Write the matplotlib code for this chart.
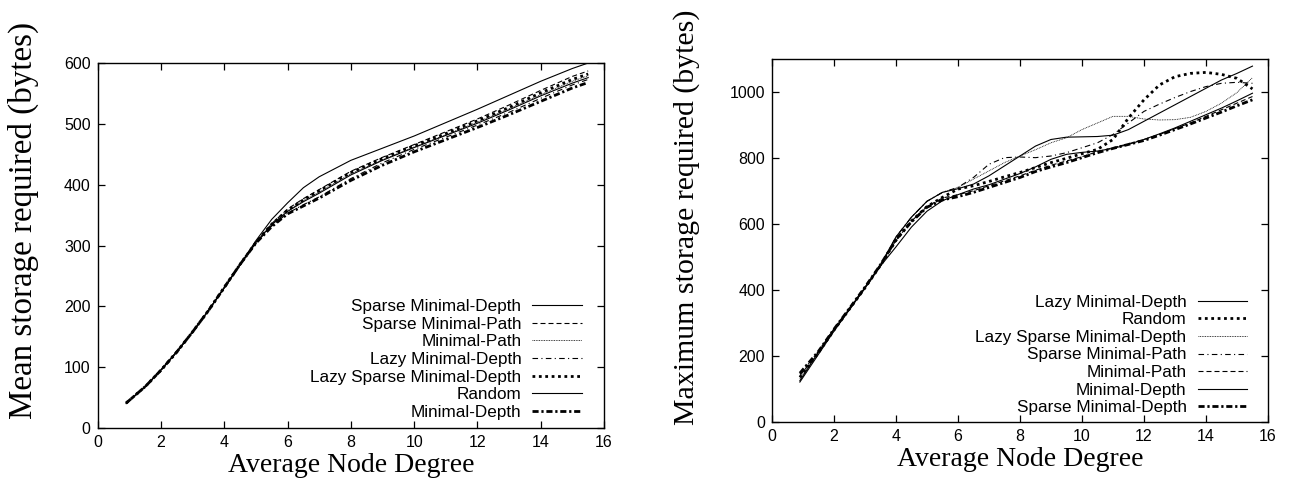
import matplotlib
matplotlib.use('Agg')
from matplotlib import pyplot as plt

# ---- left panel: mean storage ----
x_mean = [0.9, 1.5, 2, 2.5, 3, 3.5, 4, 4.5, 5, 5.5, 6, 6.5, 7, 8, 9, 10, 11, 12, 13, 14, 15, 15.5]
mean_sparse_min_depth = [41, 68, 95, 125, 158, 193, 231, 269, 305, 334, 356, 372, 386, 416, 440, 461, 481, 501, 523, 546, 567, 576]
mean_sparse_min_path = [41, 68, 95, 125, 158, 193, 231, 269, 306, 336, 360, 377, 392, 422, 445, 466, 487, 508, 531, 555, 578, 587]
mean_min_path = [41, 68, 95, 125, 158, 193, 231, 269, 305, 335, 357, 374, 388, 418, 441, 462, 482, 503, 525, 548, 570, 579]
mean_lazy_min_depth = [41, 68, 95, 125, 158, 193, 231, 269, 304, 332, 353, 367, 380, 410, 436, 458, 478, 498, 519, 542, 564, 573]
mean_lazy_sparse = [41, 68, 95, 125, 158, 193, 231, 269, 305, 335, 358, 375, 390, 420, 443, 464, 484, 505, 527, 551, 573, 582]
mean_random = [40, 68, 96, 126, 158, 193, 230, 268, 308, 343, 370, 395, 413, 440, 460, 480, 502, 524, 547, 570, 591, 600]
mean_min_depth = [41, 68, 95, 125, 158, 193, 231, 269, 304, 331, 352, 365, 378, 407, 432, 454, 474, 494, 515, 537, 559, 568]

# ---- right panel: maximum storage ----
x_max = [0.9, 1.5, 2, 2.5, 3, 3.5, 4, 4.5, 5, 5.5, 6, 6.5, 7, 7.5, 8, 8.5, 9, 9.5,
         10, 10.5, 11, 11.5, 12, 12.5, 13, 13.5, 14, 14.5, 15, 15.5]
max_lazy_min_depth = [125, 212, 280, 343, 407, 474, 560, 620, 668, 695, 706, 720, 745, 775, 805, 835, 855, 862,
                      863, 864, 868, 885, 910, 935, 960, 985, 1010, 1035, 1055, 1077]
max_random = [135, 210, 278, 342, 406, 474, 550, 608, 652, 680, 705, 715, 728, 742, 755, 770, 785, 798,
              812, 825, 855, 920, 975, 1020, 1045, 1055, 1058, 1052, 1040, 1008]
max_lazy_sparse = [130, 212, 280, 343, 407, 474, 560, 620, 668, 695, 710, 735, 760, 785, 805, 824, 845, 860,
                   885, 905, 925, 925, 917, 914, 915, 922, 940, 965, 997, 1042]
max_sparse_min_path = [145, 214, 281, 344, 408, 476, 560, 620, 668, 695, 710, 740, 780, 800, 802, 800, 805, 815,
                       830, 845, 870, 905, 940, 962, 982, 1000, 1015, 1025, 1028, 1025]
max_min_path = [140, 210, 278, 342, 406, 474, 550, 608, 652, 678, 688, 700, 715, 730, 745, 762, 777, 790,
                803, 818, 830, 842, 855, 870, 888, 905, 925, 945, 965, 985]
max_min_depth = [121, 205, 275, 340, 405, 472, 530, 590, 638, 670, 688, 705, 718, 735, 752, 772, 795, 810,
                 816, 820, 828, 840, 855, 872, 890, 910, 930, 950, 972, 995]
max_sparse_min_depth = [148, 214, 281, 344, 408, 476, 552, 606, 650, 672, 682, 695, 710, 725, 740, 758, 772, 785,
                        800, 815, 828, 840, 852, 868, 885, 902, 920, 938, 957, 975]

SOLID = dict(color='black', lw=0.8, ls='-')
DASHED = dict(color='black', lw=0.8, ls=(0, (4.5, 2.7)))
FINEDOT = dict(color='black', lw=0.6, ls=(0, (1, 1)))
DASHDOT = dict(color='black', lw=0.8, ls=(0, (5, 3, 1, 3)))
THICKDOT = dict(color='black', lw=2.0, ls=(0, (1, 1.3)))
THICKDASHDOT = dict(color='black', lw=2.0, ls=(0, (2.2, 1, 0.8, 1)))

plt.rcParams['font.family'] = ['Liberation Sans', 'DejaVu Sans']

fig = plt.figure(figsize=(12.92, 4.84), dpi=100)
ax1 = fig.add_axes([0.0756, 0.1157, 0.3919, 0.7541])
ax2 = fig.add_axes([0.5975, 0.128, 0.3839, 0.7511])

ax1.plot(x_mean, mean_sparse_min_depth, label='Sparse Minimal-Depth', **SOLID)
ax1.plot(x_mean, mean_sparse_min_path, label='Sparse Minimal-Path', **DASHED)
ax1.plot(x_mean, mean_min_path, label='Minimal-Path', **FINEDOT)
ax1.plot(x_mean, mean_lazy_min_depth, label='Lazy Minimal-Depth', **DASHDOT)
ax1.plot(x_mean, mean_lazy_sparse, label='Lazy Sparse Minimal-Depth', **THICKDOT)
ax1.plot(x_mean, mean_random, label='Random', **SOLID)
ax1.plot(x_mean, mean_min_depth, label='Minimal-Depth', **THICKDASHDOT)
ax1.set_xlim(0, 16)
ax1.set_ylim(0, 600)
ax1.set_xticks(range(0, 17, 2))
ax1.set_yticks(range(0, 601, 100))
ax1.set_xlabel('Average Node Degree', labelpad=2, family='Liberation Serif', size=20)
ax1.set_ylabel('Mean storage required (bytes)', family='Liberation Serif', size=23.8, va='center')
ax1.yaxis.set_label_coords(-0.146, 0.57)

ax2.plot(x_max, max_lazy_min_depth, label='Lazy Minimal-Depth', **SOLID)
ax2.plot(x_max, max_random, label='Random', **THICKDOT)
ax2.plot(x_max, max_lazy_sparse, label='Lazy Sparse Minimal-Depth', **FINEDOT)
ax2.plot(x_max, max_sparse_min_path, label='Sparse Minimal-Path', **DASHDOT)
ax2.plot(x_max, max_min_path, label='Minimal-Path', **DASHED)
ax2.plot(x_max, max_min_depth, label='Minimal-Depth', **SOLID)
ax2.plot(x_max, max_sparse_min_depth, label='Sparse Minimal-Depth', **THICKDASHDOT)
ax2.set_xlim(0, 16)
ax2.set_ylim(0, 1100)
ax2.set_xticks(range(0, 17, 2))
ax2.set_yticks(range(0, 1001, 200))
ax2.set_xlabel('Average Node Degree', labelpad=2, family='Liberation Serif', size=20)
ax2.set_ylabel('Maximum storage required (bytes)', family='Liberation Serif', size=21.5, va='center')
ax2.yaxis.set_label_coords(-0.173, 0.563)

for ax, anchor in ((ax1, (0.98, -0.01)), (ax2, (0.982, -0.014))):
    ax.tick_params(direction='in', length=5, width=0.9, top=True, right=True, labelsize=11.5, pad=5)
    for sp in ax.spines.values():
        sp.set_linewidth(1.0)
    ax.legend(loc='lower right', bbox_to_anchor=anchor, frameon=False, markerfirst=False,
              fontsize=12.3, handlelength=2.9, handletextpad=0.64, labelspacing=0.15,
              borderaxespad=0.3)

fig.savefig('out.png', dpi=100)
